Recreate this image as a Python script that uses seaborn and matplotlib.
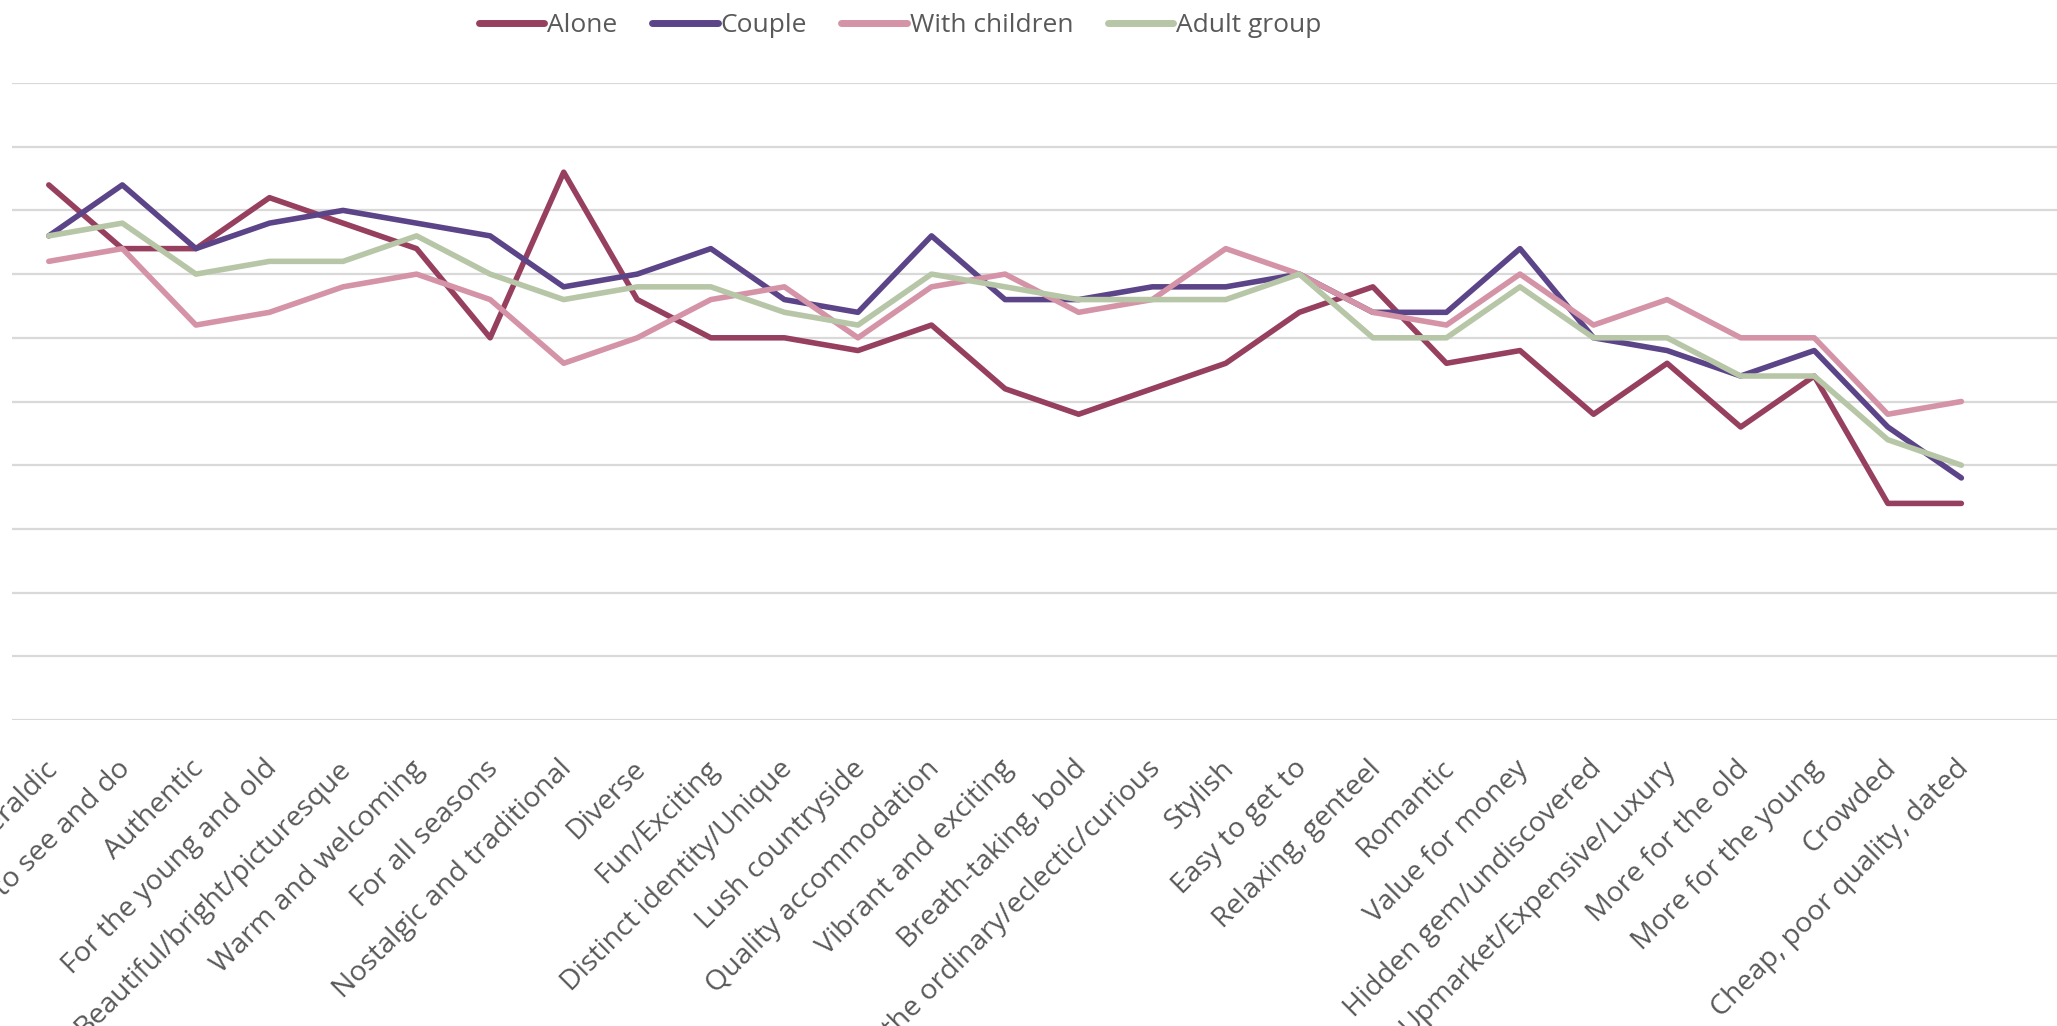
import matplotlib
matplotlib.use("Agg")
import matplotlib.pyplot as plt
import matplotlib.transforms as mtransforms
import seaborn as sns
import pandas as pd

categories = [
    "Heraldic", "Lots to see and do", "Authentic", "For the young and old",
    "Beautiful/bright/picturesque", "Warm and welcoming", "For all seasons",
    "Nostalgic and traditional", "Diverse", "Fun/Exciting",
    "Distinct identity/Unique", "Lush countryside", "Quality accommodation",
    "Vibrant and exciting", "Breath-taking, bold",
    "Out of the ordinary/eclectic/curious", "Stylish", "Easy to get to",
    "Relaxing, genteel", "Romantic", "Value for money",
    "Hidden gem/undiscovered", "Upmarket/Expensive/Luxury", "More for the old",
    "More for the young", "Crowded", "Cheap, poor quality, dated",
]

alone = [42, 37, 37, 41, 39, 37, 30, 43, 33, 30, 30, 29, 31, 26, 24, 26, 28,
         32, 34, 28, 29, 24, 28, 23, 27, 17, 17]
couple = [38, 42, 37, 39, 40, 39, 38, 34, 35, 37, 33, 32, 38, 33, 33, 34, 34,
          35, 32, 32, 37, 30, 29, 27, 29, 23, 19]
with_children = [36, 37, 31, 32, 34, 35, 33, 28, 30, 33, 34, 30, 34, 35, 32,
                 33, 37, 35, 32, 31, 35, 31, 33, 30, 30, 24, 25]
adult_group = [38, 39, 35, 36, 36, 38, 35, 33, 34, 34, 32, 31, 35, 34, 33, 33,
               33, 35, 30, 30, 34, 30, 30, 27, 27, 22, 20]

series_names = ["Alone", "Couple", "With children", "Adult group"]
colors = ["#963F5E", "#5B4488", "#D493A6", "#B6C6A6"]

rows = []
for name, vals in zip(series_names, [alone, couple, with_children, adult_group]):
    for i, v in enumerate(vals):
        rows.append({"idx": i, "value": v, "group": name})
df = pd.DataFrame(rows)

sns.set_style("white")
plt.rcParams["font.family"] = ["Open Sans", "DejaVu Sans"]

fig = plt.figure(figsize=(20.57, 10.26), dpi=100)
ax = fig.add_axes([12 / 2057, 1 - 720 / 1026, 1 - 12 / 2057, (720 - 83) / 1026])

sns.lineplot(data=df, x="idx", y="value", hue="group", hue_order=series_names,
             palette=colors, linewidth=4.0, sort=False, ax=ax, legend=False,
             solid_capstyle="round")

ax.set_xlim(-0.5, 27.3)
ax.set_ylim(0, 50)
ax.set_yticks(range(0, 51, 5))
ax.yaxis.grid(True, color="#D9D9D9", linewidth=1.6)
ax.set_axisbelow(True)
ax.tick_params(axis="y", left=False, labelleft=False)
for s in ax.spines.values():
    s.set_visible(False)

ax.set_xticks(range(len(categories)))
ax.set_xticklabels(categories, rotation=45, ha="right", rotation_mode="anchor",
                   fontsize=20.5, color="#595959")
ax.tick_params(axis="x", length=0, pad=25)
shift = mtransforms.ScaledTranslation(-6 / 100, 0, fig.dpi_scale_trans)
for lbl in ax.get_xticklabels():
    lbl.set_transform(lbl.get_transform() + shift)
ax.set_xlabel("")
ax.set_ylabel("")

handles = [plt.Line2D([], [], color=c, linewidth=5, solid_capstyle="round")
           for c in colors]
fig.legend(handles, series_names, loc="center", bbox_to_anchor=(900 / 2057, 1 - 26 / 1026),
           ncol=4, frameon=False, fontsize=19,
           handlelength=2.5, handletextpad=0.1, columnspacing=1.3, labelcolor="#595959")

fig.savefig("out.png", dpi=100)
